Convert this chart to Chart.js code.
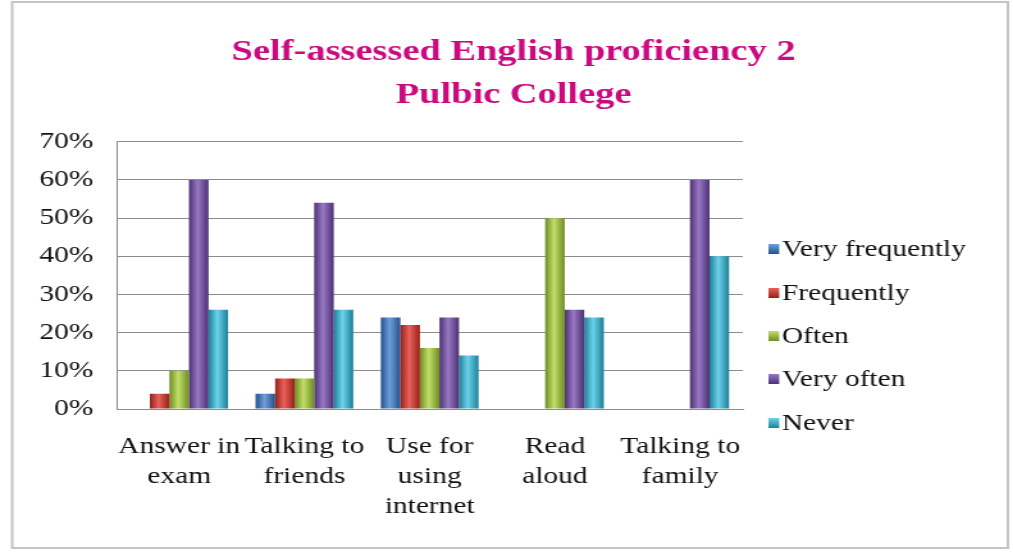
<!DOCTYPE html>
<html>
<head>
<meta charset="utf-8">
<script src="https://cdn.jsdelivr.net/npm/chart.js@4/dist/chart.umd.min.js"></script>
<style>
  html, body { margin: 0; padding: 0; background: #fff; overflow: hidden; }
  #wrap { position: absolute; left: 0; top: 0; width: 791px; height: 553px; transform: scaleX(1.2807); transform-origin: 0 0; }
  canvas { display: block; }
</style>
</head>
<body>
<div id="wrap"><canvas id="c" width="791" height="553"></canvas></div>
<script>
// ---- data ----
const categories = [["Answer in", "exam"], ["Talking to", "friends"], ["Use for", "using", "internet"], ["Read", "aloud"], ["Talking to", "family"]];
const seriesNames = ["Very frequently", "Frequently", "Often", "Very often", "Never"];
const veryFrequently = [0, 4, 24, 0, 0];
const frequently = [4, 8, 22, 0, 0];
const often = [10, 8, 16, 50, 0];
const veryOften = [60, 54, 24, 26, 60];
const never = [26, 26, 14, 24, 40];
const yTickValues = [0, 10, 20, 30, 40, 50, 60, 70];
const titleLines = ["Self-assessed English proficiency 2", "Pulbic College"];

// ---- styles ----
const baseColors = ["#3B72B6", "#C6302B", "#9BBD3A", "#6D4A9C", "#31ADCA"];
const edgeColors = ["#23508A", "#962019", "#6F8C22", "#4B3073", "#1D7F98"];
const lightColors = ["#6E9FDA", "#E8615A", "#C2DE6A", "#9878C4", "#6BD3EA"];
const CAT_PCT = 0.78;
const SERIF = '"Liberation Serif", serif';

function barFill(ctx) {
  const chart = ctx.chart;
  const i = ctx.datasetIndex;
  const xs = chart.scales && chart.scales.x;
  if (!xs || ctx.dataIndex === undefined || !isFinite(xs.width) || xs.width <= 0) return baseColors[i];
  const n = chart.data.labels.length;
  const cw = xs.width / n;
  const gw = cw * CAT_PCT;
  const bw = gw / chart.data.datasets.length;
  const center = xs.getPixelForValue(ctx.dataIndex);
  const left = center - gw / 2 + i * bw;
  const g = chart.ctx.createLinearGradient(left, 0, left + bw, 0);
  g.addColorStop(0, edgeColors[i]);
  g.addColorStop(0.45, lightColors[i]);
  g.addColorStop(1, edgeColors[i]);
  return g;
}

const seriesData = [veryFrequently, frequently, often, veryOften, never];
const datasets = seriesNames.map((name, i) => ({
  label: name,
  data: seriesData[i],
  backgroundColor: barFill,
  borderWidth: 0,
  categoryPercentage: CAT_PCT,
  barPercentage: 1.0
}));

const framePlugin = {
  id: 'frame',
  beforeDraw(chart) {
    const c = chart.ctx;
    c.save();
    c.fillStyle = '#fff';
    c.fillRect(0, 0, chart.width, chart.height);
    c.strokeStyle = '#C4C4C4';
    c.lineWidth = 2;
    c.strokeRect(9.5, 2, 777.5, 546);
    c.restore();
  }
};

const legendPlugin = {
  id: 'customLegend',
  afterDraw(chart) {
    const c = chart.ctx;
    const ys = [249, 293, 336, 379, 423];
    c.save();
    c.font = "23px " + SERIF;
    c.textBaseline = 'middle';
    c.textAlign = 'left';
    chart.data.datasets.forEach((ds, i) => {
      const y = ys[i];
      const g = c.createLinearGradient(600, y - 5, 600, y + 5);
      g.addColorStop(0, lightColors[i]);
      g.addColorStop(1, edgeColors[i]);
      c.fillStyle = g;
      c.fillRect(600, y - 5, 8.4, 10);
      c.fillStyle = '#111';
      c.fillText(ds.label, 610.5, y + 1);
    });
    c.restore();
  }
};

new Chart(document.getElementById('c'), {
  type: 'bar',
  data: { labels: categories, datasets },
  plugins: [framePlugin, legendPlugin],
  options: {
    responsive: false,
    animation: false,
    events: [],
    layout: { padding: { left: 11, right: 0, top: 0, bottom: 0 } },
    plugins: {
      legend: { display: false },
      tooltip: { enabled: false },
      title: {
        display: true,
        text: titleLines,
        color: '#CC0A80',
        font: { family: SERIF, size: 30, weight: 'bold', lineHeight: 1.43 },
        padding: { top: 31, bottom: 25 }
      }
    },
    scales: {
      x: {
        grid: { display: false, drawTicks: false },
        border: { display: true, color: '#8C8C8C', width: 1 },
        ticks: {
          color: '#111',
          font: { family: SERIF, size: 23, lineHeight: 1.3 },
          padding: 23,
          maxRotation: 0,
          autoSkip: false
        },
        afterFit(s) { s.height = 144; }
      },
      y: {
        min: 0,
        max: 70,
        afterBuildTicks(s) { s.ticks = yTickValues.map(v => ({ value: v })); },
        grid: { color: '#8C8C8C', lineWidth: 1, drawTicks: false },
        border: { display: true, color: '#8C8C8C', width: 1 },
        ticks: {
          color: '#111',
          font: { family: SERIF, size: 23 },
          padding: 18,
          callback: v => v + '%'
        },
        afterFit(s) { s.width = 80; }
      },
      legendSpace: {
        type: 'linear',
        position: 'right',
        display: true,
        grid: { display: false, drawTicks: false },
        border: { display: false },
        ticks: { display: false },
        afterFit(s) { s.width = 211; }
      }
    }
  }
});
</script>
</body>
</html>
